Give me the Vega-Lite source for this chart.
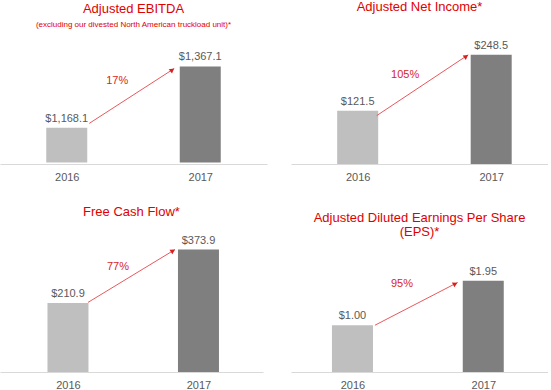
{
  "$schema": "https://vega.github.io/schema/vega-lite/v6.json",
  "background": "white",
  "padding": {"left": 0, "top": 0, "right": 0, "bottom": 0},
  "autosize": {"type": "pad"},
  "datasets": {
    "bars": [
      {"metric": "ebitda", "year": "2016", "value": 1168.1, "label": "$1,168.1"},
      {"metric": "ebitda", "year": "2017", "value": 1367.1, "label": "$1,367.1"},
      {"metric": "ni", "year": "2016", "value": 121.5, "label": "$121.5"},
      {"metric": "ni", "year": "2017", "value": 248.5, "label": "$248.5"},
      {"metric": "fcf", "year": "2016", "value": 210.9, "label": "$210.9"},
      {"metric": "fcf", "year": "2017", "value": 373.9, "label": "$373.9"},
      {"metric": "eps", "year": "2016", "value": 1.00, "label": "$1.00"},
      {"metric": "eps", "year": "2017", "value": 1.95, "label": "$1.95"}
    ],
    "arrows": [
      {"metric": "ebitda", "from": "2016", "to": "2017", "start": 1168.1, "end": 1367.1, "pct": "17%"},
      {"metric": "ni", "from": "2016", "to": "2017", "start": 121.5, "end": 248.5, "pct": "105%"},
      {"metric": "fcf", "from": "2016", "to": "2017", "start": 210.9, "end": 373.9, "pct": "77%"},
      {"metric": "eps", "from": "2016", "to": "2017", "start": 1.00, "end": 1.95, "pct": "95%"}
    ]
  },
  "columns": 2,
  "bounds": "flush",
  "align": "each",
  "spacing": {"row": 77, "column": 24},
  "concat": [
    {
      "width": 267, "height": 123,
      "title": {"text": "Adjusted EBITDA", "subtitle": "(excluding our divested North American truckload unit)*", "offset": 12, "subtitlePadding": 5},
      "layer": [
        {
          "data": {"name": "bars"},
          "transform": [{"filter": {"field": "metric", "equal": "ebitda"}}],
          "mark": {"type": "bar", "width": 41},
          "encoding": {
            "x": {"field": "year", "type": "nominal", "scale": {"type": "point", "padding": 0.5, "align": 0.5}},
            "y": {"field": "value", "type": "quantitative", "scale": {"domain": [1055, 1404]}, "axis": null},
            "y2": {"datum": 1055},
            "color": {"field": "year", "type": "nominal", "scale": {"domain": ["2016", "2017"], "range": ["#BFBFBF", "#7F7F7F"]}, "legend": null}
          }
        },
        {
          "data": {"name": "bars"},
          "transform": [{"filter": {"field": "metric", "equal": "ebitda"}}],
          "mark": {"type": "text", "baseline": "bottom", "dy": -4, "fontSize": 11, "color": "#595959"},
          "encoding": {
            "x": {"field": "year", "type": "nominal"},
            "y": {"field": "value", "type": "quantitative"},
            "text": {"field": "label"}
          }
        },
        {
          "data": {"name": "arrows"},
          "transform": [{"filter": {"field": "metric", "equal": "ebitda"}}],
          "mark": {"type": "rule", "color": "#E8585C", "strokeWidth": 1, "xOffset": 22.5, "yOffset": -4.3, "x2Offset": -26, "y2Offset": 2},
          "encoding": {
            "x": {"field": "from", "type": "nominal"},
            "x2": {"field": "to"},
            "y": {"field": "start", "type": "quantitative"},
            "y2": {"field": "end"}
          }
        },
        {
          "data": {"name": "arrows"},
          "transform": [{"filter": {"field": "metric", "equal": "ebitda"}}],
          "mark": {"type": "point", "shape": "triangle-right", "filled": true, "opacity": 1, "size": 30, "color": "#D91E1E", "angle": -37, "xOffset": -28, "yOffset": 3.5},
          "encoding": {
            "x": {"field": "to", "type": "nominal"},
            "y": {"field": "end", "type": "quantitative"}
          }
        },
        {
          "data": {"name": "arrows"},
          "transform": [{"filter": {"field": "metric", "equal": "ebitda"}}],
          "mark": {"type": "text", "baseline": "middle", "align": "center", "dx": 50.5, "dy": 15, "fontSize": 11, "color": "#D91E1E"},
          "encoding": {
            "x": {"field": "from", "type": "nominal"},
            "y": {"field": "end", "type": "quantitative"},
            "text": {"field": "pct"}
          }
        }
      ]
    },
    {
      "width": 257, "height": 123,
      "title": {"text": "Adjusted Net Income*", "offset": 26},
      "layer": [
        {
          "data": {"name": "bars"},
          "transform": [{"filter": {"field": "metric", "equal": "ni"}}],
          "mark": {"type": "bar", "width": 41},
          "encoding": {
            "x": {"field": "year", "type": "nominal", "scale": {"type": "point", "padding": 0.4625, "align": 0.54}},
            "y": {"field": "value", "type": "quantitative", "scale": {"domain": [0, 273]}, "axis": null},
            "y2": {"datum": 0},
            "color": {"field": "year", "type": "nominal", "scale": {"domain": ["2016", "2017"], "range": ["#BFBFBF", "#7F7F7F"]}, "legend": null}
          }
        },
        {
          "data": {"name": "bars"},
          "transform": [{"filter": {"field": "metric", "equal": "ni"}}],
          "mark": {"type": "text", "baseline": "bottom", "dy": -4, "fontSize": 11, "color": "#595959"},
          "encoding": {
            "x": {"field": "year", "type": "nominal"},
            "y": {"field": "value", "type": "quantitative"},
            "text": {"field": "label"}
          }
        },
        {
          "data": {"name": "arrows"},
          "transform": [{"filter": {"field": "metric", "equal": "ni"}}],
          "mark": {"type": "rule", "color": "#E8585C", "strokeWidth": 1, "xOffset": 19, "yOffset": 5, "x2Offset": -23, "y2Offset": 0},
          "encoding": {
            "x": {"field": "from", "type": "nominal"},
            "x2": {"field": "to"},
            "y": {"field": "start", "type": "quantitative"},
            "y2": {"field": "end"}
          }
        },
        {
          "data": {"name": "arrows"},
          "transform": [{"filter": {"field": "metric", "equal": "ni"}}],
          "mark": {"type": "point", "shape": "triangle-right", "filled": true, "opacity": 1, "size": 30, "color": "#D91E1E", "angle": -34, "xOffset": -25, "yOffset": 1.5},
          "encoding": {
            "x": {"field": "to", "type": "nominal"},
            "y": {"field": "end", "type": "quantitative"}
          }
        },
        {
          "data": {"name": "arrows"},
          "transform": [{"filter": {"field": "metric", "equal": "ni"}}],
          "mark": {"type": "text", "baseline": "middle", "align": "center", "dx": 47.5, "dy": 20, "fontSize": 11, "color": "#D91E1E"},
          "encoding": {
            "x": {"field": "from", "type": "nominal"},
            "y": {"field": "end", "type": "quantitative"},
            "text": {"field": "pct"}
          }
        }
      ]
    },
    {
      "width": 263, "height": 131,
      "title": {"text": "Free Cash Flow*", "offset": 16},
      "layer": [
        {
          "data": {"name": "bars"},
          "transform": [{"filter": {"field": "metric", "equal": "fcf"}}],
          "mark": {"type": "bar", "width": 41},
          "encoding": {
            "x": {"field": "year", "type": "nominal", "scale": {"type": "point", "padding": 0.5077, "align": 0.513}},
            "y": {"field": "value", "type": "quantitative", "scale": {"domain": [0, 397]}, "axis": null},
            "y2": {"datum": 0},
            "color": {"field": "year", "type": "nominal", "scale": {"domain": ["2016", "2017"], "range": ["#BFBFBF", "#7F7F7F"]}, "legend": null}
          }
        },
        {
          "data": {"name": "bars"},
          "transform": [{"filter": {"field": "metric", "equal": "fcf"}}],
          "mark": {"type": "text", "baseline": "bottom", "dy": -4, "fontSize": 11, "color": "#595959"},
          "encoding": {
            "x": {"field": "year", "type": "nominal"},
            "y": {"field": "value", "type": "quantitative"},
            "text": {"field": "label"}
          }
        },
        {
          "data": {"name": "arrows"},
          "transform": [{"filter": {"field": "metric", "equal": "fcf"}}],
          "mark": {"type": "rule", "color": "#E8585C", "strokeWidth": 1, "xOffset": 20, "yOffset": -0.5, "x2Offset": -23.5, "y2Offset": 0},
          "encoding": {
            "x": {"field": "from", "type": "nominal"},
            "x2": {"field": "to"},
            "y": {"field": "start", "type": "quantitative"},
            "y2": {"field": "end"}
          }
        },
        {
          "data": {"name": "arrows"},
          "transform": [{"filter": {"field": "metric", "equal": "fcf"}}],
          "mark": {"type": "point", "shape": "triangle-right", "filled": true, "opacity": 1, "size": 30, "color": "#D91E1E", "angle": -32, "xOffset": -25.5, "yOffset": 1.2},
          "encoding": {
            "x": {"field": "to", "type": "nominal"},
            "y": {"field": "end", "type": "quantitative"}
          }
        },
        {
          "data": {"name": "arrows"},
          "transform": [{"filter": {"field": "metric", "equal": "fcf"}}],
          "mark": {"type": "text", "baseline": "middle", "align": "center", "dx": 50, "dy": 17.7, "fontSize": 11, "color": "#D91E1E"},
          "encoding": {
            "x": {"field": "from", "type": "nominal"},
            "y": {"field": "end", "type": "quantitative"},
            "text": {"field": "pct"}
          }
        }
      ]
    },
    {
      "width": 257, "height": 131,
      "title": {"text": ["Adjusted Diluted Earnings Per Share", "(EPS)*"], "offset": 2, "lineHeight": 14},
      "layer": [
        {
          "data": {"name": "bars"},
          "transform": [{"filter": {"field": "metric", "equal": "eps"}}],
          "mark": {"type": "bar", "width": 41},
          "encoding": {
            "x": {"field": "year", "type": "nominal", "scale": {"type": "point", "padding": 0.4824, "align": 0.487}},
            "y": {"field": "value", "type": "quantitative", "scale": {"domain": [0, 2.79]}, "axis": null},
            "y2": {"datum": 0},
            "color": {"field": "year", "type": "nominal", "scale": {"domain": ["2016", "2017"], "range": ["#BFBFBF", "#7F7F7F"]}, "legend": null}
          }
        },
        {
          "data": {"name": "bars"},
          "transform": [{"filter": {"field": "metric", "equal": "eps"}}],
          "mark": {"type": "text", "baseline": "bottom", "dy": -4, "fontSize": 11, "color": "#595959"},
          "encoding": {
            "x": {"field": "year", "type": "nominal"},
            "y": {"field": "value", "type": "quantitative"},
            "text": {"field": "label"}
          }
        },
        {
          "data": {"name": "arrows"},
          "transform": [{"filter": {"field": "metric", "equal": "eps"}}],
          "mark": {"type": "rule", "color": "#E8585C", "strokeWidth": 1, "xOffset": 22.5, "yOffset": 0, "x2Offset": -25.6, "y2Offset": 1.7},
          "encoding": {
            "x": {"field": "from", "type": "nominal"},
            "x2": {"field": "to"},
            "y": {"field": "start", "type": "quantitative"},
            "y2": {"field": "end"}
          }
        },
        {
          "data": {"name": "arrows"},
          "transform": [{"filter": {"field": "metric", "equal": "eps"}}],
          "mark": {"type": "point", "shape": "triangle-right", "filled": true, "opacity": 1, "size": 30, "color": "#D91E1E", "angle": -28, "xOffset": -28, "yOffset": 3},
          "encoding": {
            "x": {"field": "to", "type": "nominal"},
            "y": {"field": "end", "type": "quantitative"}
          }
        },
        {
          "data": {"name": "arrows"},
          "transform": [{"filter": {"field": "metric", "equal": "eps"}}],
          "mark": {"type": "text", "baseline": "middle", "align": "center", "dx": 49.5, "dy": 3.7, "fontSize": 11, "color": "#D91E1E"},
          "encoding": {
            "x": {"field": "from", "type": "nominal"},
            "y": {"field": "end", "type": "quantitative"},
            "text": {"field": "pct"}
          }
        }
      ]
    }
  ],
  "config": {
    "font": "Liberation Sans",
    "view": {"stroke": null},
    "title": {"font": "Liberation Sans", "fontSize": 13, "fontWeight": "normal", "color": "#E00000", "anchor": "middle", "subtitleFont": "Liberation Sans", "subtitleFontSize": 8, "subtitleColor": "#E00000", "subtitleFontWeight": "normal"},
    "text": {"font": "Liberation Sans"},
    "axisX": {"title": null, "domainColor": "#D9D9D9", "domainWidth": 1, "ticks": false, "grid": false, "labelAngle": 0, "labelFont": "Liberation Sans", "labelFontSize": 11, "labelColor": "#595959", "labelPadding": 7}
  }
}
